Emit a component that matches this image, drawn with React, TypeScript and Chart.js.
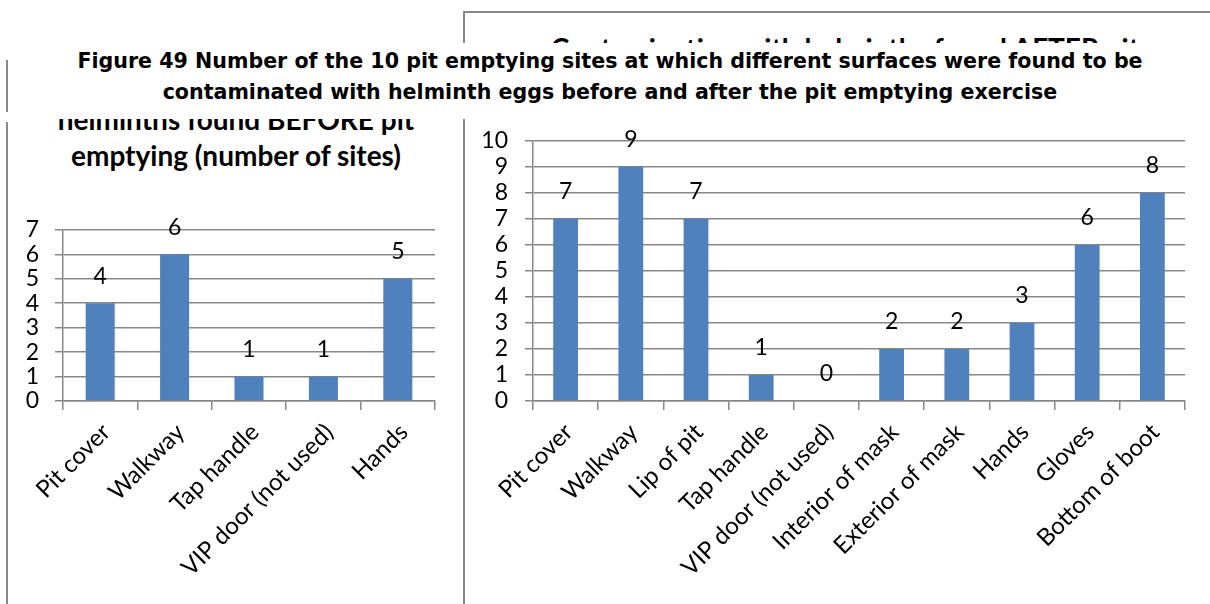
import React, { useEffect, useRef } from "react";
import { Chart, registerables } from "chart.js";

Chart.register(...registerables);

// ---- data -------------------------------------------------------------
const beforeSurfaces = ["Pit cover", "Walkway", "Tap handle", "VIP door (not used)", "Hands"];
const beforeSites = [4, 6, 1, 1, 5];
const beforeAxisMax = 7;

const afterSurfaces = [
  "Pit cover",
  "Walkway",
  "Lip of pit",
  "Tap handle",
  "VIP door (not used)",
  "Interior of mask",
  "Exterior of mask",
  "Hands",
  "Gloves",
  "Bottom of boot",
];
const afterSites = [7, 9, 7, 1, 0, 2, 2, 3, 6, 8];
const afterAxisMax = 10;

const beforeTitle = ["Contamination with", "helminths found BEFORE pit", "emptying (number of sites)"];
const afterTitle = ["Contamination with helminths found AFTER pit", "emptying (number of sites)"];
const figureCaption = [
  "Figure 49 Number of the 10 pit emptying sites at which different surfaces were found to be",
  "contaminated with helminth eggs before and after the pit emptying exercise",
];

// ---- styling ----------------------------------------------------------
const FONT = "Lato, 'Open Sans', sans-serif";
const CAPTION_FONT = "'DejaVu Sans', sans-serif";
const GRID = "#878787";
const BAR = "#4F81BD";

// Writes each bar's value a fixed distance above its top.
const valueLabels = {
  id: "valueLabels",
  afterDatasetsDraw(chart: any, _args: any, opts: any) {
    const { ctx } = chart;
    const meta = chart.getDatasetMeta(0);
    const values = chart.data.datasets[0].data as number[];
    ctx.save();
    ctx.font = `${opts.size}px ${FONT}`;
    ctx.fillStyle = "#000";
    ctx.textAlign = "center";
    ctx.textBaseline = "middle";
    meta.data.forEach((bar: any, i: number) => {
      ctx.fillText(String(values[i]), bar.x, bar.y - opts.lift);
    });
    ctx.restore();
  },
};

type PanelSpec = {
  labels: string[];
  values: number[];
  max: number;
  left: number;
  top: number;
  width: number;
  height: number;
  yWidth: number;
  xHeight: number;
  padding: { top: number; right: number; bottom: number; left: number };
  barPct: number;
  tickSize: number;
  catSize: number;
  catRotation: number;
  catOffset: number;
  valueSize: number;
  tickPad: number;
  catPad: number;
};

function makeConfig(s: PanelSpec): any {
  return {
    type: "bar",
    data: {
      labels: s.labels,
      datasets: [
        {
          data: s.values,
          backgroundColor: BAR,
          borderWidth: 0,
          barPercentage: s.barPct,
          categoryPercentage: 1,
        },
      ],
    },
    options: {
      responsive: false,
      animation: false,
      layout: { padding: s.padding },
      plugins: {
        legend: { display: false },
        tooltip: { enabled: false },
        title: { display: false },
        valueLabels: { size: s.valueSize, lift: 27 },
      },
      scales: {
        x: {
          grid: {
            display: true,
            drawOnChartArea: false,
            drawTicks: true,
            tickLength: 9,
            color: GRID,
            lineWidth: 1.5,
            offset: true,
          },
          border: { display: true, color: GRID, width: 1.5 },
          ticks: {
            autoSkip: false,
            minRotation: s.catRotation,
            maxRotation: s.catRotation,
            labelOffset: s.catOffset,
            color: "#000",
            padding: s.catPad,
            font: { family: FONT, size: s.catSize },
          },
          afterFit: (scale: any) => {
            scale.height = s.xHeight;
          },
        },
        y: {
          min: 0,
          max: s.max,
          grid: { color: GRID, lineWidth: 1.5, drawTicks: true, tickLength: 8 },
          border: { display: true, color: GRID, width: 1.5 },
          ticks: {
            stepSize: 1,
            autoSkip: false,
            color: "#000",
            padding: s.tickPad,
            font: { family: FONT, size: s.tickSize },
          },
          afterFit: (scale: any) => {
            scale.width = s.yWidth;
          },
        },
      },
    },
    plugins: [valueLabels],
  };
}

function BarPanel({ spec }: { spec: PanelSpec }) {
  const ref = useRef<HTMLCanvasElement>(null);
  useEffect(() => {
    const chart = new Chart(ref.current as HTMLCanvasElement, makeConfig(spec));
    return () => chart.destroy();
  }, []);
  return (
    <canvas
      ref={ref}
      width={spec.width}
      height={spec.height}
      style={{
        position: "absolute",
        left: spec.left,
        top: spec.top,
        width: spec.width,
        height: spec.height,
      }}
    />
  );
}

const beforePanel: PanelSpec = {
  labels: beforeSurfaces,
  values: beforeSites,
  max: beforeAxisMax,
  left: 8,
  top: 200,
  width: 440,
  height: 404,
  yWidth: 55,
  xHeight: 203,
  padding: { top: 22, right: 13, bottom: 0, left: 0 },
  barPct: 0.39,
  tickSize: 23,
  catSize: 24,
  catRotation: 45,
  catOffset: 6,
  valueSize: 23,
  tickPad: 16,
  catPad: 8,
};

const afterPanel: PanelSpec = {
  labels: afterSurfaces,
  values: afterSites,
  max: afterAxisMax,
  left: 470,
  top: 110,
  width: 740,
  height: 494,
  yWidth: 63,
  xHeight: 203,
  padding: { top: 26, right: 25, bottom: 0, left: 0 },
  barPct: 0.38,
  tickSize: 23,
  catSize: 24,
  catRotation: 45,
  catOffset: 3,
  valueSize: 23,
  tickPad: 17,
  catPad: 8,
};

const line = (style: React.CSSProperties) => (
  <div style={{ position: "absolute", background: GRID, ...style }} />
);

const titleStyle: React.CSSProperties = {
  position: "absolute",
  textAlign: "center",
  fontFamily: FONT,
  fontWeight: 700,
  fontSize: 28,
  lineHeight: "36px",
  color: "#000",
  whiteSpace: "nowrap",
};

export default function App() {
  return (
    <div
      style={{
        position: "fixed",
        left: 0,
        top: 0,
        width: 1210,
        height: 604,
        overflow: "hidden",
        background: "#fff",
      }}
    >
      {/* chart frames */}
      {line({ left: 6, top: 60, width: 2, height: 52 })}
      {line({ left: 6, top: 122, width: 2, height: 482 })}
      {line({ left: 463, top: 11, width: 2, height: 593 })}
      {line({ left: 463, top: 11, width: 747, height: 2 })}

      {/* chart titles */}
      <div style={{ ...titleStyle, left: 8, top: 65, width: 456 }}>
        {beforeTitle.map((t) => (
          <div key={t}>{t}</div>
        ))}
      </div>
      <div style={{ ...titleStyle, left: 464, top: 30, width: 762 }}>
        {afterTitle.map((t) => (
          <div key={t}>{t}</div>
        ))}
      </div>

      <BarPanel spec={beforePanel} />
      <BarPanel spec={afterPanel} />

      {/* figure caption */}
      <div
        style={{
          position: "absolute",
          left: 10,
          top: 43,
          width: 1200,
          height: 76,
          background: "#fff",
          boxSizing: "border-box",
          paddingTop: 3,
          textAlign: "center",
          fontFamily: CAPTION_FONT,
          fontWeight: 700,
          fontSize: 20.6,
          lineHeight: "31px",
          color: "#000",
          whiteSpace: "nowrap",
        }}
      >
        {figureCaption.map((t) => (
          <div key={t}>{t}</div>
        ))}
      </div>
    </div>
  );
}
